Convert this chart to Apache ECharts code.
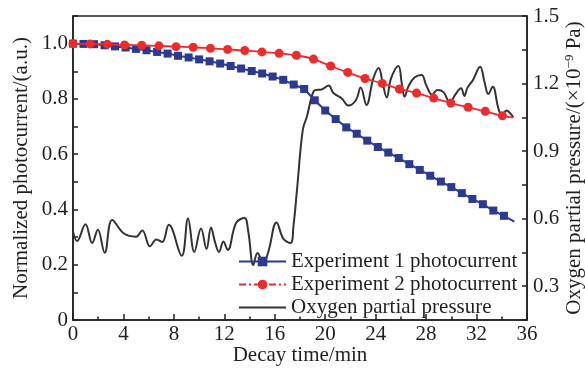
<!DOCTYPE html>
<html>
<head>
<meta charset="utf-8">
<script src="https://cdn.jsdelivr.net/npm/echarts@6/dist/echarts.min.js"></script>
<style>
html,body{margin:0;padding:0;background:#fff;}
#c{width:585px;height:368px;}
</style>
</head>
<body>
<div id="c"></div>
<script>
// Experiment 1 photocurrent (blue squares), sampled every 5/6 min
var exp1Time = [0, 0.83, 1.67, 2.5, 3.33, 4.17, 5, 5.83, 6.67, 7.5, 8.33, 9.17, 10, 10.83, 11.67, 12.5, 13.33, 14.17, 15, 15.83, 16.67, 17.5, 18.33, 19.17, 20, 20.83, 21.67, 22.5, 23.33, 24.17, 25, 25.83, 26.67, 27.5, 28.33, 29.17, 30, 30.83, 31.67, 32.5, 33.33, 34.17, 35];
var exp1Value = [1.0, 0.999, 0.998, 0.994, 0.990, 0.986, 0.981, 0.976, 0.970, 0.964, 0.956, 0.950, 0.943, 0.936, 0.928, 0.919, 0.910, 0.901, 0.892, 0.881, 0.869, 0.852, 0.836, 0.795, 0.758, 0.727, 0.697, 0.674, 0.649, 0.626, 0.606, 0.586, 0.564, 0.543, 0.522, 0.501, 0.481, 0.459, 0.438, 0.419, 0.396, 0.377, 0.356];
// Experiment 2 photocurrent (red circles)
var exp2Time = [0, 1.36, 2.72, 4.09, 5.45, 6.81, 8.17, 9.53, 10.9, 12.26, 13.62, 14.98, 16.34, 17.71, 19.07, 20.43, 21.79, 23.15, 24.52, 25.88, 27.24, 28.6, 29.96, 31.33, 32.69, 34.05, 34.9];
var exp2Value = [1.0, 0.999, 0.9975, 0.995, 0.994, 0.992, 0.989, 0.987, 0.983, 0.979, 0.975, 0.970, 0.965, 0.958, 0.944, 0.919, 0.896, 0.874, 0.856, 0.836, 0.821, 0.803, 0.785, 0.770, 0.755, 0.739, 0.733];
// Oxygen partial pressure (x10^-9 Pa), right axis
var o2Time = [0.0, 0.32, 0.99, 1.52, 1.97, 2.51, 3.11, 4.04, 5.0, 5.49, 6.11, 6.61, 7.07, 7.6, 8.62, 9.12, 9.62, 10.15, 10.59, 10.94, 11.26, 11.58, 11.92, 12.27, 12.93, 13.6, 13.9, 14.3, 14.63, 15.09, 15.49, 16.14, 16.69, 17.25, 17.49, 17.76, 18.22, 18.56, 18.93, 19.19, 19.72, 20.28, 20.64, 21.31, 21.85, 22.44, 22.81, 23.27, 23.81, 24.24, 24.54, 24.88, 25.22, 25.8, 26.07, 26.29, 26.61, 27.08, 27.64, 28.0, 28.47, 28.9, 29.38, 29.9, 30.29, 30.77, 31.03, 31.28, 31.72, 32.28, 32.63, 32.93, 33.28, 33.73, 34.0, 34.38, 34.65, 34.92];
var o2Value = [0.543, 0.501, 0.575, 0.492, 0.551, 0.449, 0.594, 0.534, 0.52, 0.548, 0.477, 0.508, 0.496, 0.573, 0.435, 0.601, 0.452, 0.556, 0.465, 0.561, 0.496, 0.452, 0.499, 0.461, 0.581, 0.603, 0.542, 0.394, 0.448, 0.403, 0.453, 0.583, 0.51, 0.492, 0.572, 0.727, 0.994, 1.056, 1.142, 1.171, 1.174, 1.191, 1.158, 1.134, 1.102, 1.127, 1.182, 1.105, 1.222, 1.269, 1.207, 1.138, 1.223, 1.278, 1.201, 1.142, 1.189, 1.227, 1.238, 1.194, 1.151, 1.171, 1.162, 1.114, 1.149, 1.179, 1.145, 1.182, 1.216, 1.275, 1.207, 1.154, 1.186, 1.09, 1.06, 1.08, 1.069, 1.049];

var seriesNames = ['Experiment 1 photocurrent', 'Experiment 2 photocurrent', 'Oxygen partial pressure'];
var xName = 'Decay time/min';
var yLeftName = 'Normalized photocurrent/(a.u.)';

function pairs(t, v, lastNoSymbol) {
  return t.map(function (x, i) {
    if (lastNoSymbol && i === t.length - 1) return { value: [x, v[i]], symbol: 'none' };
    return [x, v[i]];
  });
}

var FONT = "'Liberation Serif','Times New Roman',serif";
var TXT = '#231f20';
var AX = '#231f20';

var chart = echarts.init(document.getElementById('c'), null, { renderer: 'canvas' });
chart.setOption({
  animation: false,
  backgroundColor: '#fff',
  textStyle: { fontFamily: FONT, color: TXT },
  grid: { left: 73, right: 58, top: 16, bottom: 48, outerBoundsMode: 'none', containLabel: false, show: true, borderColor: AX, borderWidth: 1.5, backgroundColor: 'transparent' },
  legend: {
    orient: 'vertical', left: 238, top: 251, padding: 0, itemWidth: 47, itemHeight: 12, itemGap: 2,
    textStyle: { fontFamily: FONT, fontSize: 21, color: TXT },
    data: [
      { name: seriesNames[0] },
      { name: seriesNames[1], lineStyle: { type: [7, 3, 2, 3] } },
      { name: seriesNames[2], itemStyle: { opacity: 0 } }
    ]
  },
  xAxis: {
    type: 'value', min: 0, max: 36, interval: 4,
    name: xName, nameLocation: 'middle', nameGap: 25, nameMoveOverlap: false,
    nameTextStyle: { fontFamily: FONT, fontSize: 21, color: TXT },
    axisLine: { lineStyle: { color: AX, width: 1.5 } },
    axisTick: { inside: true, length: 6, lineStyle: { color: AX, width: 1.5 } },
    minorTick: { show: true, splitNumber: 2, length: 3.5, lineStyle: { color: AX, width: 1.5 } },
    axisLabel: { fontFamily: FONT, fontSize: 21, color: TXT, margin: 4 },
    splitLine: { show: false }
  },
  yAxis: [{
    type: 'value', min: 0, max: 1.1, interval: 0.1, position: 'left',
    name: yLeftName, nameLocation: 'middle', nameGap: 41, nameRotate: 90, nameMoveOverlap: false,
    nameTextStyle: { fontFamily: FONT, fontSize: 21, color: TXT },
    axisLine: { show: true, lineStyle: { color: AX, width: 1.5 } },
    axisTick: { inside: true, length: 5, lineStyle: { color: AX, width: 1.5 } },
    axisLabel: {
      fontFamily: FONT, fontSize: 21, color: TXT, margin: 5,
      formatter: function (v) {
        var k = Math.round(v * 10);
        if (k % 2 !== 0) return '';
        return k === 0 ? '0' : (k / 10).toFixed(1);
      }
    },
    splitLine: { show: false }
  }, {
    type: 'value', min: 0.15, max: 1.5, interval: 0.15, position: 'right',
    name: '{n|Oxygen partial pressure/(×10}{s|−9}{n| Pa)}', nameLocation: 'middle', nameGap: 36, nameRotate: 90, nameMoveOverlap: false,
    nameTextStyle: {
      fontFamily: FONT, fontSize: 21, color: TXT,
      rich: { n: { fontFamily: FONT, fontSize: 21, color: TXT }, s: { fontFamily: FONT, fontSize: 13, color: TXT, verticalAlign: 'top', padding: [0, 0, 10, 0] } }
    },
    axisLine: { show: true, lineStyle: { color: AX, width: 1.5 } },
    axisTick: { inside: true, length: 5, lineStyle: { color: AX, width: 1.5 } },
    axisLabel: {
      fontFamily: FONT, fontSize: 21, color: TXT, margin: 6,
      formatter: function (v) {
        var k = Math.round(v / 0.15);
        if (k % 2 !== 0) return '';
        return v.toFixed(1);
      }
    },
    splitLine: { show: false }
  }],
  series: [{
    name: seriesNames[0], type: 'line', yAxisIndex: 0,
    data: pairs(exp1Time, exp1Value, true),
    symbol: 'rect', symbolSize: 8,
    lineStyle: { color: '#2b3990', width: 2 },
    itemStyle: { color: '#2b3990' },
    z: 3
  }, {
    name: seriesNames[1], type: 'line', yAxisIndex: 0,
    data: pairs(exp2Time, exp2Value, true),
    symbol: 'circle', symbolSize: 9, smooth: 0.3,
    lineStyle: { color: '#ee2a2a', width: 1.8 },
    itemStyle: { color: '#ee2a2a' },
    z: 4
  }, {
    name: seriesNames[2], type: 'line', yAxisIndex: 1,
    data: pairs(o2Time, o2Value, false),
    symbol: 'none', smooth: 0.4,
    lineStyle: { color: '#333333', width: 2 },
    itemStyle: { color: '#333333' },
    z: 2
  }]
});
</script>
</body>
</html>
